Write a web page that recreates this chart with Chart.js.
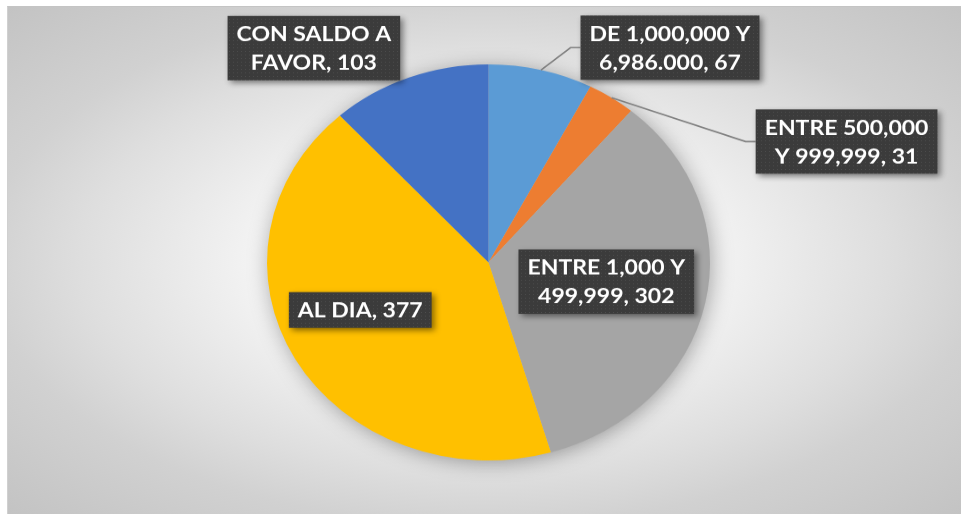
<!DOCTYPE html>
<html lang="es">
<head>
<meta charset="UTF-8">
<title>Cartera por saldo</title>
<script src="https://cdn.jsdelivr.net/npm/chart.js"></script>
<style>
    html, body { margin: 0; padding: 0; width: 961px; height: 514px; overflow: hidden; background: #fff; }
    #fondo {
        position: absolute; left: 7px; top: 6px; right: 0; bottom: 0;
        border-top: 1px solid #c4c4c4; border-left: 1px solid #d0d0d0;
        background: radial-gradient(ellipse at 50% 50%, #ffffff 0%, #f3f3f3 34%, #dedede 60%, #d1d1d1 74%, #c3c3c3 100%);
    }
    #caja {
        position: absolute; left: 0; top: 0; width: 961px; height: 575px;
        transform: scaleY(0.894); transform-origin: 0 0;
    }
</style>
</head>
<body>
<div id="fondo"></div>
<div id="caja"><canvas id="pieSaldos"></canvas></div>
<script>
    // datos
    const categorias = ["DE 1,000,000 Y 6,986.000", "ENTRE 500,000 Y 999,999", "ENTRE 1,000 Y 499,999", "AL DIA", "CON SALDO A FAVOR"];
    const valores = [67, 31, 302, 377, 103];
    const colores = ["#5b9bd5", "#ed7d31", "#a5a5a5", "#ffc000", "#4472c4"];

    // desplazamiento de cada etiqueta respecto al borde de su porción, y si lleva línea guía
    const desplazamiento = [[129, -25], [235, 49], [-99, -24], [65, -55], [-95, -33]];
    const conGuia = [true, true, false, false, false];

    const fuente = "bold 23px Lato, 'Open Sans', sans-serif";
    const anchoMax = 170;

    // textura punteada de las cajas
    const tex = document.createElement("canvas");
    tex.width = 4; tex.height = 4;
    const tctx = tex.getContext("2d");
    tctx.fillStyle = "#3b3b3b"; tctx.fillRect(0, 0, 4, 4);
    tctx.fillStyle = "#4d4d4d"; tctx.fillRect(1, 1, 1, 1);

    function partirTexto(ctx, texto) {
        const palabras = texto.split(" ");
        const lineas = [];
        let actual = "";
        palabras.forEach(p => {
            const prueba = actual ? actual + " " + p : p;
            if (actual && ctx.measureText(prueba).width > anchoMax) {
                lineas.push(actual);
                actual = p;
            } else {
                actual = prueba;
            }
        });
        lineas.push(actual);
        return lineas;
    }

    const etiquetas = {
        id: "etiquetas",
        beforeDatasetsDraw(chart) {
            // sombra suave bajo el pastel
            const arc = chart.getDatasetMeta(0).data[0];
            const ctx = chart.ctx;
            ctx.save();
            ctx.shadowColor = "rgba(0,0,0,0.35)";
            ctx.shadowBlur = 22;
            ctx.shadowOffsetX = 2;
            ctx.shadowOffsetY = 3;
            ctx.fillStyle = "#bbbbbb";
            ctx.beginPath();
            ctx.arc(arc.x, arc.y, arc.outerRadius - 1, 0, Math.PI * 2);
            ctx.fill();
            ctx.restore();
        },
        afterDatasetsDraw(chart) {
            const ctx = chart.ctx;
            const patron = ctx.createPattern(tex, "repeat");
            chart.getDatasetMeta(0).data.forEach((arc, i) => {
                const p = arc.getProps(["x", "y", "startAngle", "endAngle", "outerRadius"], true);
                const medio = (p.startAngle + p.endAngle) / 2;
                const ex = p.x + Math.cos(medio) * p.outerRadius;
                const ey = p.y + Math.sin(medio) * p.outerRadius;
                const cx = ex + desplazamiento[i][0];
                const cy = ey + desplazamiento[i][1];

                ctx.save();
                ctx.font = fuente;
                const lineas = partirTexto(ctx, categorias[i] + ", " + valores[i]);
                const ancho = Math.max(...lineas.map(l => ctx.measureText(l).width)) + 18;
                const altoLinea = 32;
                const alto = lineas.length * altoLinea + 8;
                const x0 = cx - ancho / 2, y0 = cy - alto / 2;

                if (conGuia[i]) {
                    ctx.strokeStyle = "#7f7f7f";
                    ctx.lineWidth = 1.6;
                    ctx.beginPath();
                    ctx.moveTo(ex, ey);
                    ctx.lineTo(x0 - 10, cy);
                    ctx.lineTo(x0, cy);
                    ctx.stroke();
                }

                ctx.shadowColor = "rgba(0,0,0,0.45)";
                ctx.shadowBlur = 6;
                ctx.shadowOffsetX = 3;
                ctx.shadowOffsetY = 3;
                ctx.fillStyle = patron;
                ctx.fillRect(x0, y0, ancho, alto);
                ctx.shadowColor = "transparent";

                ctx.fillStyle = "#ffffff";
                ctx.textAlign = "center";
                ctx.textBaseline = "middle";
                lineas.forEach((l, k) => {
                    ctx.fillText(l, cx, y0 + 4 + altoLinea * (k + 0.5) + 1);
                });
                ctx.restore();
            });
        }
    };

    new Chart(document.getElementById("pieSaldos"), {
        type: "pie",
        data: {
            labels: categorias,
            datasets: [{
                data: valores,
                backgroundColor: colores,
                borderWidth: 0
            }]
        },
        options: {
            responsive: true,
            maintainAspectRatio: false,
            animation: false,
            layout: { padding: { left: 267, right: 251, top: 72, bottom: 60 } },
            plugins: {
                legend: { display: false },
                tooltip: { enabled: false }
            }
        },
        plugins: [etiquetas]
    });
</script>
</body>
</html>
